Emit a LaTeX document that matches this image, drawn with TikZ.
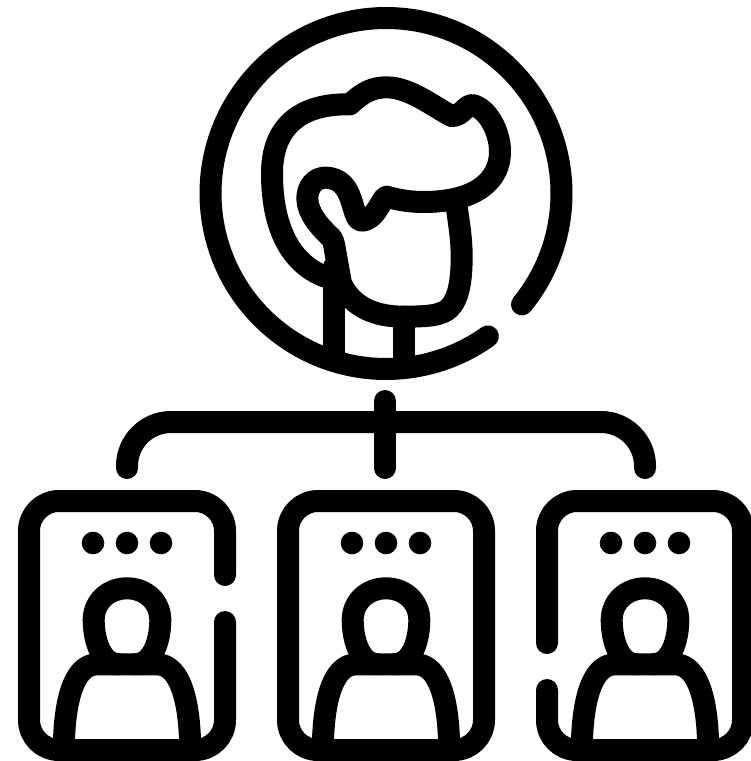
\documentclass[tikz,border=0pt]{standalone}
\tikzset{
  icon/.style={draw=black,line width=22pt,line cap=round,line join=round},
  dotmark/.style={fill=black,draw=none}
}
\newcommand{\persondraw}{%
  \fill[dotmark] (-34,543) circle (11.3pt) (0,543) circle (11.3pt) (34,543) circle (11.3pt);
  \draw[icon] (-8,664.3) .. controls (-26,664.3) and (-33.3,640) .. (-33.3,620)
     .. controls (-33.3,601.7) and (-18.7,588.3) .. (0,588.3)
     .. controls (18.7,588.3) and (33.3,601.7) .. (33.3,620)
     .. controls (33.3,640) and (26,664.3) .. (8,664.3);
  \draw[icon] (-63,750) -- (-63,740) .. controls (-62,706.7) and (-55,664.3) .. (-30,664.3)
     -- (30,664.3) .. controls (55,664.3) and (62,706.7) .. (63,740) -- (63,750);
}
\begin{document}
\begin{tikzpicture}[x=1pt,y=1pt,yscale=-1]
\useasboundingbox (0,0) rectangle (751,761);
\clip (0,0) rectangle (751,761);
% top circle with gap
\draw[icon] (386,193.5) ++(39.2:175.5) arc[start angle=39.2,end angle=-305.5,radius=175.5pt];
% head
\begin{scope}[shift={(190,0)},scale=1/3]
\draw[icon] (405,830) .. controls (300,790) and (246,680) .. (246,520)
  .. controls (246,390) and (320,313) .. (470,313)
  -- (480,313) .. controls (520,275) and (550,262) .. (590,262)
  .. controls (660,262) and (730,320) .. (785,348)
  .. controls (815,350) and (825,315) .. (848,315)
  .. controls (890,325) and (930,390) .. (930,455)
  .. controls (930,540) and (860,606) .. (700,606)
  .. controls (660,606) and (625,600) .. (590,590)
  .. controls (575,590) and (560,660) .. (515,662)
  .. controls (480,660) and (500,533) .. (405,533)
  .. controls (375,533) and (352,560) .. (352,595)
  .. controls (352,640) and (390,680) .. (415,705)
  .. controls (430,715) and (432,730) .. (435,750)
  -- (453,850) .. controls (490,930) and (570,950) .. (640,950)
  .. controls (690,950) and (730,948) .. (750,940)
  .. controls (810,925) and (815,830) .. (815,770)
  .. controls (815,710) and (805,660) .. (798,605);
\draw[icon] (433,800) -- (433,1060);
\draw[icon] (641,950) -- (641,1075);
\end{scope}
% connectors
\draw[icon] (385,401) -- (385,468);
\draw[icon,rounded corners=44pt] (127,468) -- (127,422) -- (645,422) -- (645,468);
% cards
\draw[icon,rounded corners=30pt] (225,575) -- (225,501) -- (29,501) -- (29,750) -- (225,750) -- (225,622);
\draw[icon,rounded corners=30pt] (386,501) -- (484,501) -- (484,750) -- (288,750) -- (288,501) -- cycle;
\draw[icon,rounded corners=30pt] (547,643) -- (547,501) -- (743,501) -- (743,750) -- (547,750) -- (547,690);
\begin{scope}[shift={(127,0)}]\persondraw\end{scope}
\begin{scope}[shift={(386,0)}]\persondraw\end{scope}
\begin{scope}[shift={(645,0)}]\persondraw\end{scope}
\end{tikzpicture}
\end{document}
